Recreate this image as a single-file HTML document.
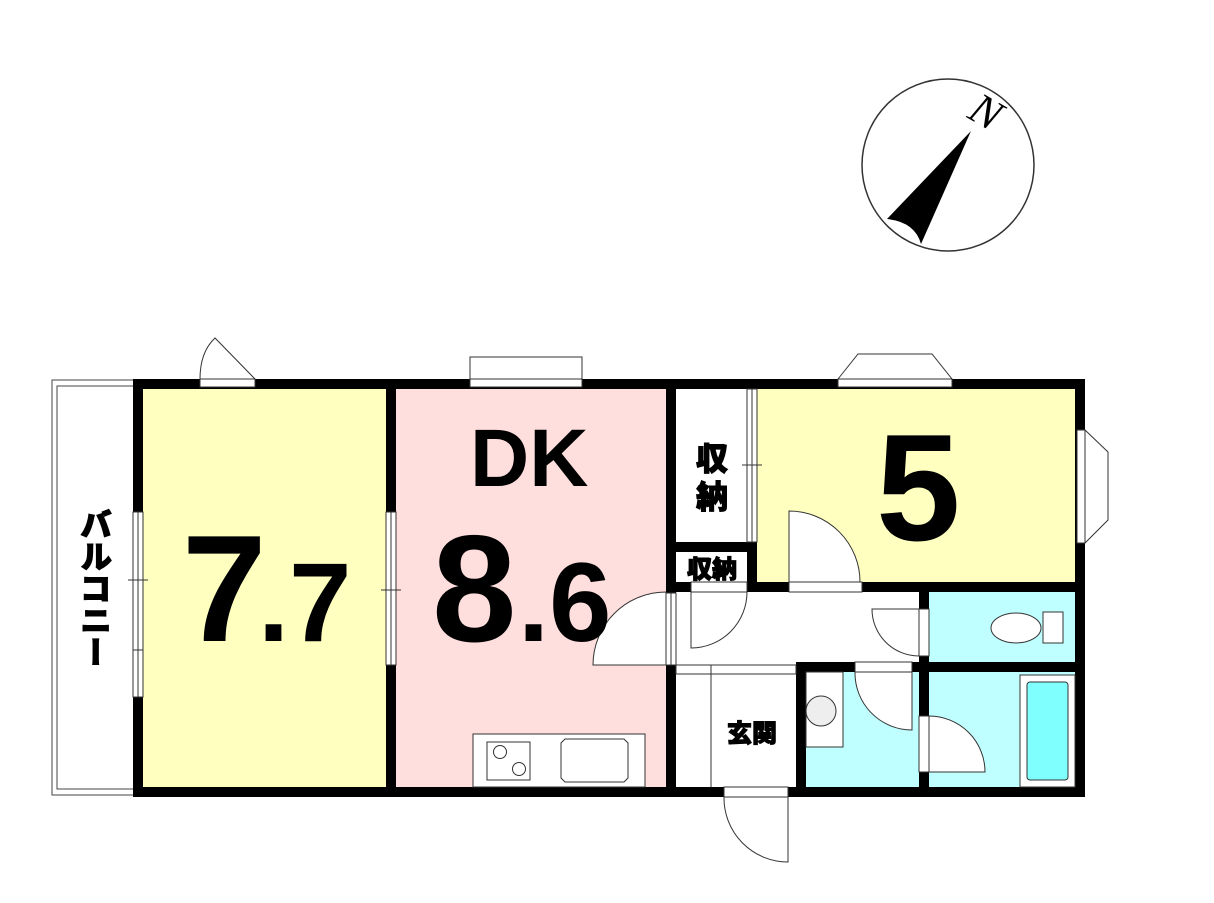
<!DOCTYPE html>
<html><head><meta charset="utf-8"><style>
html,body{margin:0;padding:0;background:#fff;}
svg{display:block;}
.t{font-family:"Liberation Sans","Noto Sans CJK JP",sans-serif;font-weight:bold;fill:#000;}
.j{font-family:"Noto Sans CJK JP",sans-serif;font-weight:900;fill:#000;stroke:#000;stroke-width:1;}
#bal{position:absolute;left:78px;top:508px;width:36px;writing-mode:vertical-rl;font-family:"Noto Sans CJK JP",sans-serif;font-weight:900;font-size:32px;line-height:36px;color:#000;-webkit-text-stroke:1px #000;}
</style></head><body>
<svg width="1214" height="903" viewBox="0 0 1214 903" xmlns="http://www.w3.org/2000/svg">
<!-- compass -->
<circle cx="948" cy="165" r="86" fill="#fff" stroke="#333" stroke-width="1.5"/>
<path d="M971,131 L887,219 Q915,222 921,244 Z" fill="#000"/>
<text x="0" y="0" transform="translate(966,117) rotate(30)" font-family="Liberation Serif,serif" font-style="italic" font-size="44" fill="#000">N</text>

<!-- balcony -->
<rect x="52" y="380" width="85" height="415" fill="#fff" stroke="#444" stroke-width="1"/>
<rect x="57" y="386" width="80" height="403" fill="#fff" stroke="#444" stroke-width="1"/>

<!-- room fills -->
<rect x="138" y="384" width="252" height="407" fill="#ffffbf"/>
<rect x="390" y="384" width="281" height="407" fill="#ffdede"/>
<rect x="671" y="384" width="82" height="280" fill="#fff"/>
<rect x="753" y="384" width="327" height="203" fill="#ffffbf"/>
<rect x="671" y="587" width="254" height="80" fill="#fff"/>
<rect x="925" y="587" width="155" height="80" fill="#c0ffff"/>
<rect x="671" y="665" width="130" height="126" fill="#fff"/>
<rect x="801" y="667" width="124" height="124" fill="#c0ffff"/>
<rect x="925" y="667" width="155" height="124" fill="#c0ffff"/>

<!-- walls -->
<g fill="#000">
<rect x="133" y="379" width="952" height="10"/>
<rect x="133" y="787" width="952" height="10"/>
<rect x="133" y="379" width="10" height="418"/>
<rect x="1075" y="379" width="10" height="418"/>
<rect x="386" y="379" width="10" height="418"/>
<rect x="666" y="379" width="10" height="418"/>
<rect x="747" y="379" width="10" height="213"/>
<rect x="666" y="542" width="91" height="10"/>
<rect x="666" y="582" width="419" height="10"/>
<rect x="919" y="582" width="10" height="215"/>
<rect x="796" y="662" width="289" height="10"/>
<rect x="796" y="662" width="10" height="135"/>
</g>

<!-- windows / openings -->
<g fill="#fff" stroke="#333" stroke-width="1">
<rect x="133" y="512" width="10" height="138"/><rect x="133" y="650" width="10" height="47"/>
<line x1="138" y1="512" x2="138" y2="697"/><line x1="128" y1="580" x2="148" y2="580"/>
<rect x="386" y="512" width="10" height="153"/><line x1="391" y1="512" x2="391" y2="665"/><line x1="381" y1="590" x2="401" y2="590"/>
<rect x="747" y="389" width="10" height="153"/><line x1="752" y1="389" x2="752" y2="542"/><line x1="742" y1="465" x2="762" y2="465"/>
<rect x="200" y="379" width="55" height="8"/>
<path d="M200,379 Q200,352 215,338 L255,379" fill="none"/>
<rect x="470" y="357" width="112" height="22"/><rect x="470" y="379" width="112" height="8"/>
<path d="M838,379 L858,354 L932,354 L952,379 Z"/><rect x="838" y="379" width="114" height="8"/>
<path d="M1085,430 L1108,452 L1108,520 L1085,543 Z"/><rect x="1077" y="430" width="8" height="113"/>
<rect x="789" y="582" width="73" height="10"/>
<path d="M789,582 L789,511 A71,71 0 0 1 860,582 Z"/>
<rect x="691" y="582" width="56" height="10"/>
<path d="M691,592 L691,648 A56,56 0 0 0 747,592 Z"/>
<rect x="666" y="593" width="10" height="72"/><line x1="671" y1="593" x2="671" y2="665"/>
<path d="M666,665 L593,665 A73,73 0 0 1 666,592 Z"/>
<rect x="919" y="609" width="10" height="47"/>
<path d="M919,609 L872,609 A47,47 0 0 0 919,656 Z"/>
<rect x="676" y="665" width="120" height="9"/>
<line x1="711" y1="665" x2="711" y2="787"/>
<rect x="855" y="662" width="57" height="10"/>
<path d="M912,672 L912,730 A57,57 0 0 1 855,672 Z"/>
<rect x="919" y="716" width="10" height="56"/>
<path d="M929,772 L985,772 A56,56 0 0 0 929,716 Z"/>
<rect x="724" y="787" width="64" height="10"/>
<path d="M788,797 L788,862 A64,64 0 0 1 724,797 Z"/>
<rect x="806" y="672" width="37" height="75"/>
<circle cx="821" cy="711" r="15" fill="#eee"/>
<ellipse cx="1016" cy="628" rx="25" ry="15"/>
<rect x="1043" y="612" width="20" height="31"/>
<rect x="1020" y="675" width="55" height="112"/>
<rect x="1027" y="682" width="41" height="98" rx="3" fill="#80ffff" stroke="#333"/>
<rect x="473" y="734" width="172" height="53"/>
<rect x="487" y="742" width="43" height="38"/>
<circle cx="500" cy="752" r="6.5"/><circle cx="519" cy="769" r="6.5"/>
<path d="M565,739 L624,739 L628,743 L628,778 L624,782 L565,782 L561,778 L561,743 Z"/>
</g>

<!-- labels -->
<text class="t" x="182" y="641" font-size="152">7</text>
<text class="t" x="258" y="641" font-size="112">.7</text>
<text class="t" x="470" y="486" font-size="82">DK</text>
<text class="t" x="432" y="641" font-size="152">8</text>
<text class="t" x="518" y="641" font-size="112">.6</text>
<text class="t" x="876" y="540" font-size="152">5</text>
<text class="j" x="712" y="470" font-size="32" text-anchor="middle">収</text>
<text class="j" x="712" y="508" font-size="32" text-anchor="middle">納</text>
<text class="j" x="712" y="578" font-size="25" text-anchor="middle">収納</text>
<text class="j" x="752" y="742" font-size="25" text-anchor="middle">玄関</text>
</svg>
<div id="bal">バルコニー</div>
</body></html>
